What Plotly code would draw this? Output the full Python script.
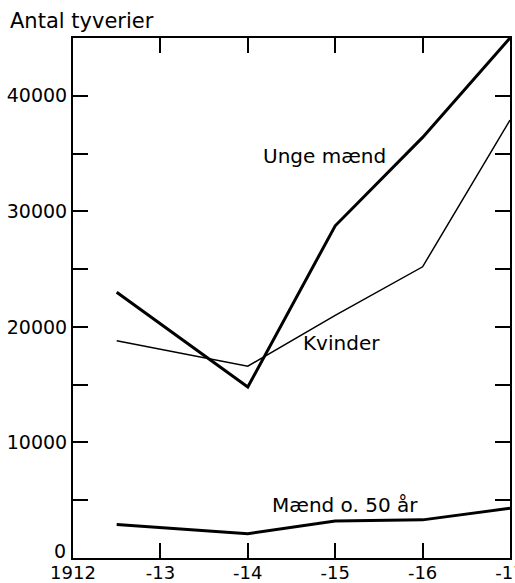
import plotly.graph_objects as go

years = [1912.5, 1914, 1915, 1916, 1917]
unge_maend = [23000, 14800, 28750, 36400, 45000]
kvinder = [18800, 16600, 21000, 25200, 37900]
maend_50 = [2900, 2100, 3200, 3300, 4300]

x_tickvals = [1912, 1913, 1914, 1915, 1916, 1917]
x_ticktext = ["1912", "-13", "-14", "-15", "-16", "-17"]
y_tickvals = [0, 5000, 10000, 15000, 20000, 25000, 30000, 35000, 40000]
y_ticktext = ["", "", "10000", "", "20000", "", "30000", "", "40000"]

FONT = "DejaVu Sans"

fig = go.Figure()
fig.add_trace(go.Scatter(x=years, y=unge_maend, mode="lines",
                         line=dict(color="black", width=3), name="Unge mænd"))
fig.add_trace(go.Scatter(x=years, y=kvinder, mode="lines",
                         line=dict(color="black", width=1.5), name="Kvinder"))
fig.add_trace(go.Scatter(x=years, y=maend_50, mode="lines",
                         line=dict(color="black", width=3), name="Mænd o. 50 år"))

fig.add_annotation(x=1914.88, y=34800, text="Unge mænd", showarrow=False,
                   font=dict(family=FONT, size=20, color="black"))
fig.add_annotation(x=1915.07, y=18600, text="Kvinder", showarrow=False,
                   font=dict(family=FONT, size=20, color="black"))
fig.add_annotation(x=1915.11, y=4600, text="Mænd o. 50 år", showarrow=False,
                   font=dict(family=FONT, size=20, color="black"))
fig.add_annotation(xref="paper", yref="paper", x=-0.149, y=1.032,
                   xanchor="left", yanchor="middle", text="Antal tyverier",
                   showarrow=False, font=dict(family=FONT, size=21, color="black"))
# "0" label on the y axis, raised slightly above the x axis labels
fig.add_annotation(xref="paper", yref="y", x=0, y=0, xanchor="right",
                   yanchor="middle", xshift=-5, yshift=7, text="0",
                   showarrow=False, font=dict(family=FONT, size=19, color="black"))

fig.update_layout(
    width=515, height=583, autosize=False,
    margin=dict(l=73, r=5, t=38, b=25, autoexpand=False),
    paper_bgcolor="white", plot_bgcolor="white",
    showlegend=False,
    font=dict(family=FONT, size=18, color="black"),
    xaxis=dict(range=[1912, 1917], tickvals=x_tickvals, ticktext=x_ticktext,
               ticks="inside", ticklen=15, tickwidth=2, tickcolor="black",
               showline=True, linewidth=2, linecolor="black", mirror="allticks",
               showgrid=False, zeroline=False, ticklabeloverflow="allow",
               automargin=False, ticklabelstandoff=-3,
               tickfont=dict(family=FONT, size=18, color="black")),
    yaxis=dict(range=[0, 45000], tickvals=y_tickvals, ticktext=y_ticktext,
               ticks="inside", ticklen=15, tickwidth=2, tickcolor="black",
               showline=True, linewidth=2, linecolor="black", mirror="allticks",
               showgrid=False, zeroline=False, ticklabeloverflow="allow",
               automargin=False,
               tickfont=dict(family=FONT, size=19, color="black")),
)

fig.write_html("out.html",
               config={"responsive": False, "displayModeBar": False},
               post_script="document.body.style.margin='0';")
